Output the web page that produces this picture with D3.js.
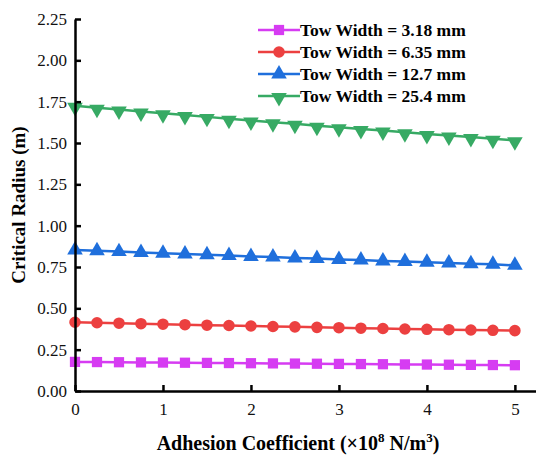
<!DOCTYPE html>
<html>
<head>
<meta charset="utf-8">
<script src="https://cdn.jsdelivr.net/npm/d3@7"></script>
<style>
  body { margin: 0; background: #fff; }
  svg text { font-family: "Liberation Serif", "Times New Roman", serif; }
</style>
</head>
<body>
<div id="plot"></div>
<script>
// Data
const adhesion = [0, 0.25, 0.5, 0.75, 1, 1.25, 1.5, 1.75, 2, 2.25, 2.5, 2.75, 3, 3.25, 3.5, 3.75, 4, 4.25, 4.5, 4.75, 5];
const tow318 = [0.176, 0.175, 0.174, 0.173, 0.172, 0.171, 0.170, 0.169, 0.168, 0.167, 0.166, 0.165, 0.164, 0.163, 0.162, 0.161, 0.160, 0.159, 0.158, 0.157, 0.156];
const tow635 = [0.416, 0.413, 0.410, 0.407, 0.404, 0.401, 0.398, 0.396, 0.393, 0.390, 0.388, 0.385, 0.383, 0.380, 0.378, 0.375, 0.373, 0.371, 0.369, 0.367, 0.365];
const tow127 = [0.853, 0.848, 0.843, 0.838, 0.833, 0.828, 0.824, 0.819, 0.814, 0.810, 0.805, 0.801, 0.796, 0.792, 0.787, 0.783, 0.779, 0.774, 0.770, 0.766, 0.760];
const tow254 = [1.725, 1.713, 1.702, 1.691, 1.680, 1.669, 1.658, 1.647, 1.636, 1.626, 1.616, 1.605, 1.595, 1.585, 1.575, 1.565, 1.555, 1.545, 1.536, 1.526, 1.516];
const seriesNames = ["Tow Width = 3.18 mm", "Tow Width = 6.35 mm", "Tow Width = 12.7 mm", "Tow Width = 25.4 mm"];
const xTicks = [0, 1, 2, 3, 4, 5];
const yTicks = [0, 0.25, 0.5, 0.75, 1, 1.25, 1.5, 1.75, 2, 2.25];

const width = 536, height = 456;
const margin = { top: 19, right: 0, bottom: 65, left: 75 };

const svg = d3.select('#plot').append('svg')
  .attr('width', width)
  .attr('height', height);

const x = d3.scaleLinear().domain([0, 5.24]).range([margin.left, width - margin.right]);
const y = d3.scaleLinear().domain([0, 2.25]).range([height - margin.bottom, margin.top]);

// styles per series
const styles = [
  { color: '#d63cf2', symbol: d3.symbolSquare, size: 105, rot: 0 },
  { color: '#ec4040', symbol: d3.symbolCircle, size: 105, rot: 0 },
  { color: '#1f6fdc', symbol: d3.symbolTriangle, size: 105, rot: 0 },
  { color: '#37aa64', symbol: d3.symbolTriangle, size: 105, rot: 180 }
];
const allSeries = [tow318, tow635, tow127, tow254].map((vals, i) => ({
  name: seriesNames[i],
  style: styles[i],
  points: adhesion.map((a, j) => ({ x: a, y: vals[j] }))
}));

const line = d3.line().x(d => x(d.x)).y(d => y(d.y));

// series lines and markers
allSeries.forEach(s => {
  svg.append('path')
    .datum(s.points)
    .attr('fill', 'none')
    .attr('stroke', s.style.color)
    .attr('stroke-width', 2.5)
    .attr('d', line);

  svg.append('g').selectAll('path')
    .data(s.points)
    .join('path')
      .attr('d', d3.symbol().type(s.style.symbol).size(s.style.size))
      .attr('fill', s.style.color)
      .attr('transform', d => `translate(${x(d.x)},${y(d.y) + (s.style.rot ? 1.5 : 0)}) rotate(${s.style.rot})`);
});

// axes (ticks point inward)
const xAxis = d3.axisBottom(x).tickValues(xTicks).tickFormat(d3.format('d')).tickSizeInner(-6).tickSizeOuter(0).tickPadding(12);
const yAxis = d3.axisLeft(y).tickValues(yTicks).tickFormat(d3.format('.2f')).tickSizeInner(-6).tickSizeOuter(0).tickPadding(8);

const gx = svg.append('g')
  .attr('transform', `translate(0,${height - margin.bottom})`)
  .call(xAxis);
const gy = svg.append('g')
  .attr('transform', `translate(${margin.left},0)`)
  .call(yAxis);

[gx, gy].forEach(g => {
  g.select('.domain').attr('stroke', '#000').attr('stroke-width', 2.5);
  g.selectAll('.tick line').attr('stroke', '#000').attr('stroke-width', 2.5);
  g.selectAll('.tick text')
    .attr('fill', '#111')
    .style('font-family', '"Liberation Serif", serif')
    .style('font-size', '17px');
});

// axis titles
const xt = svg.append('text')
  .attr('x', 298)
  .attr('y', 450)
  .attr('text-anchor', 'middle')
  .style('font-size', '20px')
  .style('font-weight', 'bold');
xt.append('tspan').text('Adhesion Coefficient (×10');
xt.append('tspan').attr('dy', -8).style('font-size', '13px').text('8');
xt.append('tspan').attr('dy', 8).text(' N/m');
xt.append('tspan').attr('dy', -8).style('font-size', '13px').text('3');
xt.append('tspan').attr('dy', 8).text(')');

svg.append('text')
  .attr('transform', `translate(25,${(margin.top + height - margin.bottom) / 2}) rotate(-90)`)
  .attr('text-anchor', 'middle')
  .style('font-size', '19px')
  .style('font-weight', 'bold')
  .text('Critical Radius (m)');

// legend
const legend = svg.append('g').attr('transform', 'translate(258,30)');
allSeries.forEach((s, i) => {
  const row = legend.append('g').attr('transform', `translate(0,${i * 22})`);
  row.append('line')
    .attr('x1', 0).attr('x2', 42)
    .attr('stroke', s.style.color)
    .attr('stroke-width', 2.5);
  row.append('path')
    .attr('d', d3.symbol().type(s.style.symbol).size(s.style.size))
    .attr('fill', s.style.color)
    .attr('transform', `translate(21,${s.style.rot ? 1.5 : 0}) rotate(${s.style.rot})`);
  row.append('text')
    .attr('x', 42)
    .attr('y', 6)
    .style('font-size', '17.5px')
    .style('font-weight', 'bold')
    .text(s.name);
});
</script>
</body>
</html>
